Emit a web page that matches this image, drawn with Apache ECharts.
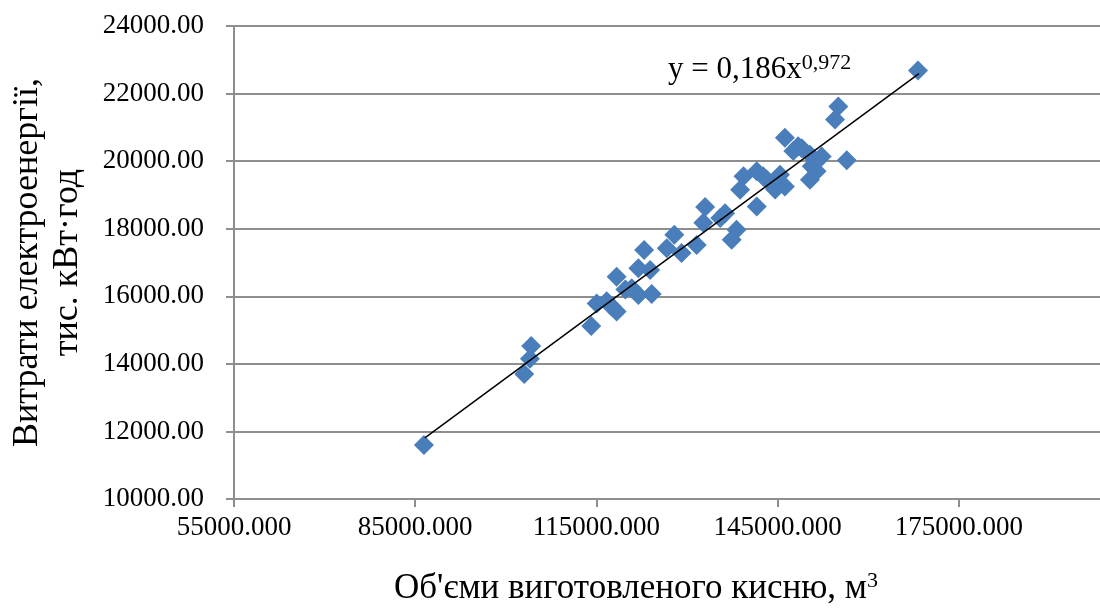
<!DOCTYPE html>
<html>
<head>
<meta charset="utf-8">
<script src="https://cdn.jsdelivr.net/npm/echarts@6/dist/echarts.min.js"></script>
<style>html,body{margin:0;padding:0;background:#fff}#c{width:1100px;height:608px}</style>
</head>
<body>
<div id="c"></div>
<script>
// Oxygen volume, m3
var oxygenX = [86450,104200,104000,103050,114150,115050,116700,117500,118350,118350,
  120850,121950,124150,121950,123900,122900,126650,127900,129100,131600,
  132700,133000,136300,135500,138200,137400,141550,138800,139350,141550,
  143200,144600,146200,145400,147600,155050,154500,146200,148400,149000,
  150350,152300,156450,150650,151450,150350,168250,142600,119800];
// Electricity consumption, thousand kWh
var energyY = [11600,14530,14150,13700,15120,15790,15850,15700,15550,16580,
  16240,16040,16070,16830,16780,17370,17420,17820,17280,17520,
  18180,18640,18460,18320,17970,17670,18660,19150,19550,19700,
  19450,19160,19250,19600,20300,21620,21230,20690,20440,20380,
  20190,20140,20030,19850,19700,19450,22680,19550,16200];
// trend line ends (y = 0,186x^0,972)
var trendX = [86600, 168400];
var trendY = [11810, 22590];
var xTicks = {min: 55000, max: 205000, interval: 30000, lastLabel: 175000};
var yTicks = {min: 10000, max: 24000, interval: 2000};

var pts = oxygenX.map(function(x, i){ return [x, energyY[i]]; });
var trend = trendX.map(function(x, i){ return [x, trendY[i]]; });

var chart = echarts.init(document.getElementById('c'), null, {renderer: 'canvas'});
var font = '"Liberation Serif", "Times New Roman", serif';
var gray = '#8e8e8e';
chart.setOption({
  animation: false,
  backgroundColor: '#fff',
  grid: {left: 234, top: 26, width: 906, height: 473, outerBoundsMode: 'none', containLabel: false},
  xAxis: {
    type: 'value', min: xTicks.min, max: xTicks.max, interval: xTicks.interval,
    axisLine: {show: true, lineStyle: {color: gray, width: 2}},
    axisTick: {show: true, length: 8, lineStyle: {color: gray, width: 2}},
    splitLine: {show: false},
    axisLabel: {margin: 15, color: '#000', fontFamily: font, fontSize: 27,
      formatter: function(v){ return v > xTicks.lastLabel ? '' : v.toFixed(3); }},
    name: "Об'єми виготовленого кисню, м{sup|3}",
    nameLocation: 'middle', nameGap: 71,
    nameTextStyle: {color: '#000', fontFamily: font, fontSize: 35, padding: [0, 102, 0, 0],
      rich: {sup: {fontFamily: font, fontSize: 22, verticalAlign: 'top', padding: [0,0,16,0], color: '#000'}}}
  },
  yAxis: {
    type: 'value', min: yTicks.min, max: yTicks.max, interval: yTicks.interval,
    axisLine: {show: true, lineStyle: {color: gray, width: 2}},
    axisTick: {show: true, length: 8, lineStyle: {color: gray, width: 2}},
    splitLine: {show: true, lineStyle: {color: gray, width: 2}},
    axisLabel: {margin: 30, color: '#000', fontFamily: font, fontSize: 27,
      formatter: function(v){ return v.toFixed(2); }},
    name: 'Витрати електроенергії,\nтис. кВт·год',
    nameLocation: 'middle', nameRotate: 90, nameGap: 146,
    nameTextStyle: {color: '#000', fontFamily: font, fontSize: 36, lineHeight: 40}
  },
  series: [
    {type: 'scatter', data: pts, symbol: 'diamond', symbolSize: 20,
      itemStyle: {color: '#4a7ebb', opacity: 1}, z: 2},
    {type: 'line', data: trend, symbol: 'none', z: 3,
      lineStyle: {color: '#000', width: 1.5}}
  ],
  graphic: [{
    type: 'text', left: 668, top: 52, z: 10,
    style: {text: 'y = 0,186x{sup|0,972}', fontFamily: font, fontSize: 31, fill: '#000',
      rich: {sup: {fontFamily: font, fontSize: 22, verticalAlign: 'top', padding: [0,0,13,0]}}}
  }]
});
</script>
</body>
</html>
